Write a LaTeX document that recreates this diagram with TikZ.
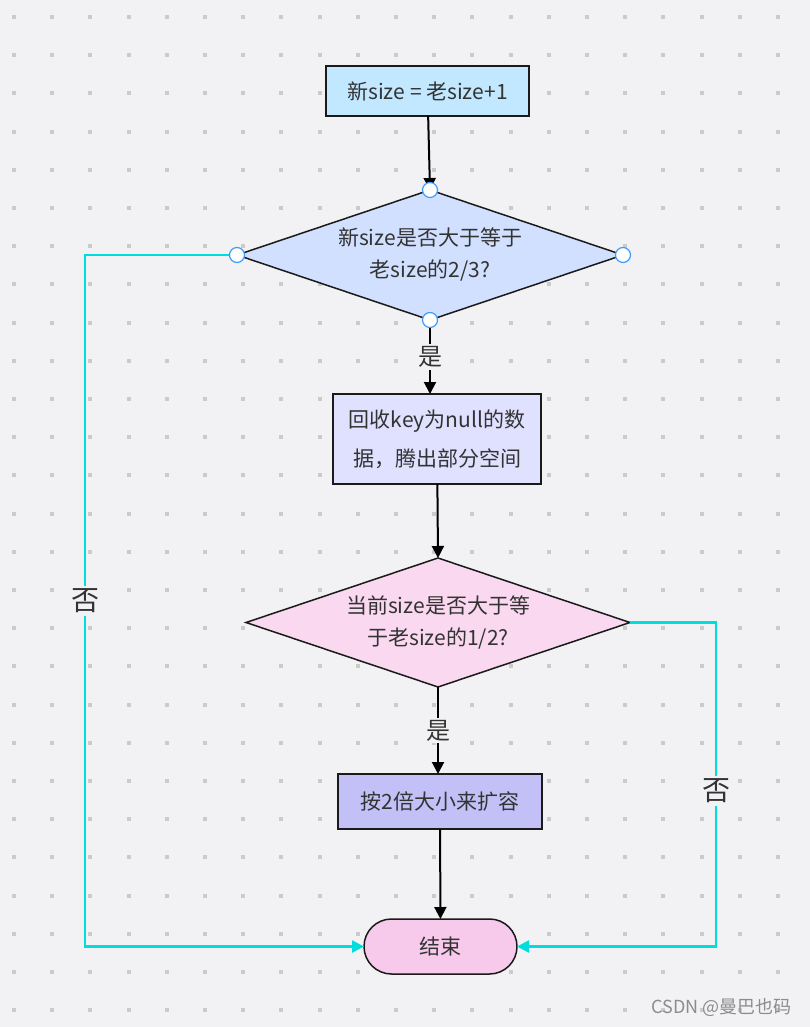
\documentclass[tikz,border=0pt]{standalone}
\usepackage{fontspec}
\newfontfamily\cjk{Noto Sans CJK SC}
\usepackage{xcolor}
\usetikzlibrary{shapes.geometric, arrows.meta, positioning}

\definecolor{canvas}{HTML}{F2F2F4}
\definecolor{griddot}{HTML}{CBCBCB}
\definecolor{txt}{HTML}{333333}
\definecolor{edge}{HTML}{1A1A1A}
\definecolor{nolink}{HTML}{00DDDD}
\definecolor{portblue}{HTML}{3D9BFF}
\definecolor{fillA}{HTML}{C2E8FF}
\definecolor{fillB}{HTML}{D2E0FF}
\definecolor{fillC}{HTML}{E0E0FF}
\definecolor{fillD}{HTML}{F9D8F0}
\definecolor{fillE}{HTML}{C3C0F8}
\definecolor{fillF}{HTML}{F7CAEC}

\begin{document}
\begin{tikzpicture}[x=1pt, y=-1pt,
    proc/.style={rectangle, draw=edge, line width=1.5pt, text=txt, inner sep=0pt, outer sep=0pt, align=center, font=\cjk\fontsize{21}{32}\selectfont},
    decision/.style={diamond, draw=edge, line width=1.5pt, text=txt, inner sep=0pt, outer sep=0pt, aspect=3, align=center, font=\cjk\fontsize{21}{32}\selectfont},
    terminal/.style={rectangle, rounded corners=27.5pt, draw=edge, line width=1.5pt, text=txt, inner sep=0pt, outer sep=0pt, font=\cjk\fontsize{21}{32}\selectfont},
    flow/.style={-{Triangle[length=12pt, width=12pt]}, line width=2pt, draw=black},
    noflow/.style={-{Triangle[length=12pt, width=12pt]}, line width=2.5pt, draw=nolink},
    port/.style={draw=portblue, fill=white, line width=1.2pt},
    yes/.style={fill=canvas, text=txt, inner sep=2pt, font=\cjk\fontsize{24}{28}\selectfont},
    no/.style={fill=canvas, text=txt, inner sep=3pt, font=\cjk\fontsize{28}{32}\selectfont}
]

% background and dot grid
\fill[canvas] (0,0) rectangle (810,1027);
\useasboundingbox (0,0) rectangle (810,1027);
\foreach \i in {0,...,20} {
    \foreach \j in {0,...,26} {
        \fill[griddot] ({14+38.2*\i-2},{17+38.2*\j-2}) rectangle ++(4,4);
    }
}

% size update
\node[proc, fill=fillA, minimum width=203pt, minimum height=50pt] (grow) at (427.5,91) {新size = 老size+1};

% first check
\node[decision, fill=fillB, minimum width=386pt, minimum height=130pt, below=74pt of grow, xshift=2.5pt] (check1) {新size是否大于等于\\老size的2/3?};

% clean up
\node[proc, fill=fillC, minimum width=208pt, minimum height=90pt, below=74pt of check1, xshift=7pt] (clean) {回收key为null的数\\[7pt]据，腾出部分空间};

% second check
\node[decision, fill=fillD, minimum width=384pt, minimum height=129pt, below=74pt of clean, xshift=1pt] (check2) {当前size是否大于等\\于老size的1/2?};

% resize
\node[proc, fill=fillE, minimum width=204pt, minimum height=55pt, below=87pt of check2, xshift=2pt] (resize) {按2倍大小来扩容};

% end
\node[terminal, fill=fillF, minimum width=153pt, minimum height=55pt, below=90pt of resize, xshift=0.5pt] (stop) {结束};

% Relationships
\draw[flow] (grow) -- (check1.north);
\draw[flow] (check1.south) -- node[yes] {是} (check1.south |- clean.north);
\draw[flow] (clean) -- (check2.north);
\draw[flow] (check2.south) -- node[yes] {是} (check2.south |- resize.north);
\draw[flow] (resize) -- (stop);
\draw[noflow] (check1.west) -- ++(-152,0) |- node[no, pos=0.25] {否} (stop.west);
\draw[noflow] (check2.east) -- ++(86,0) |- node[no, pos=0.26] {否} (stop.east);

% connection points
\foreach \a in {north, south, east, west}
    \draw[port] (check1.\a) circle (7.5pt);

% watermark
\node[anchor=east, text=black!45, font=\cjk\fontsize{18}{20}\selectfont] (mark) at (795,1008) {CSDN @曼巴也码};

\end{tikzpicture}
\end{document}
